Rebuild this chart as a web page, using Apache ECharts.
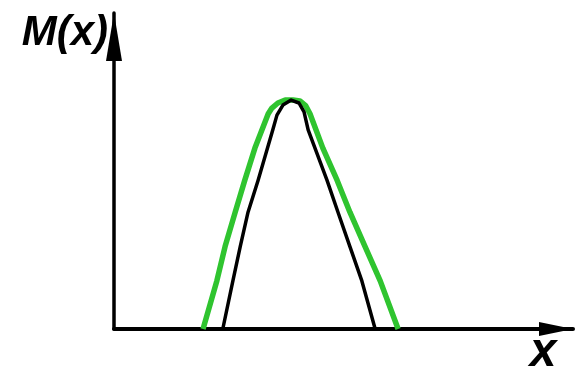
<!DOCTYPE html>
<html>
<head>
<meta charset="utf-8">
<script src="https://cdn.jsdelivr.net/npm/echarts@6/dist/echarts.min.js"></script>
<style>
  html, body { margin: 0; padding: 0; background: #fff; }
  #chart { width: 576px; height: 368px; }
</style>
</head>
<body>
<div id="chart"></div>
<script>
  // membership curves: [x, M(x)]
  const greenCurve = [
    [19.4, 0], [22.4, 0.21], [24.2, 0.36], [26.4, 0.51], [28.5, 0.65], [30.7, 0.79],
    [33.6, 0.94], [34.4, 0.965], [35.7, 0.987], [37.3, 1.0], [39.0, 1.0], [40.5, 0.996],
    [41.8, 0.974], [42.7, 0.94], [45.5, 0.79], [48.6, 0.65], [51.4, 0.51], [54.7, 0.36],
    [58.0, 0.21], [61.9, 0]
  ];
  const blackCurve = [
    [23.7, 0], [25.9, 0.21], [27.5, 0.36], [29.2, 0.51], [31.4, 0.65], [34.6, 0.87],
    [35.5, 0.934], [36.8, 0.978], [38.6, 1.0], [40.3, 0.987], [41.4, 0.948], [42.3, 0.87],
    [46.4, 0.65], [48.8, 0.51], [51.4, 0.36], [54.0, 0.21], [56.9, 0]
  ];
  const xName = "x";
  const yName = "M(x)";

  const labelStyle = { color: "#000", fontFamily: "Liberation Sans, Arial, sans-serif", fontWeight: "bold", fontStyle: "italic" };

  const chart = echarts.init(document.getElementById("chart"), null, { renderer: "canvas" });
  chart.setOption({
    animation: false,
    grid: { left: 114, right: 3, top: 13, bottom: 39, containLabel: false, outerBoundsMode: "none" },
    xAxis: {
      type: "value", min: 0, max: 100,
      name: xName, nameLocation: "end", nameGap: -30,
      nameTextStyle: Object.assign({ fontSize: 48, verticalAlign: "top", align: "center" }, labelStyle),
      axisLine: { onZero: false, symbol: ["none", "triangle"], symbolSize: [14, 34], symbolOffset: [0, -17],
        lineStyle: { color: "#000", width: 4 } },
      axisTick: { show: false }, axisLabel: { show: false }, splitLine: { show: false }
    },
    yAxis: {
      type: "value", min: 0, max: 1.38,
      name: yName, nameLocation: "end", nameGap: -20,
      nameTextStyle: Object.assign({ fontSize: 42, verticalAlign: "middle", align: "right", padding: [0, 6, 0, 0] }, labelStyle),
      axisLine: { onZero: false, symbol: ["none", "triangle"], symbolSize: [16, 48], symbolOffset: [0, -24],
        lineStyle: { color: "#000", width: 3.5 } },
      axisTick: { show: false }, axisLabel: { show: false }, splitLine: { show: false }
    },
    series: [
      { type: "line", data: greenCurve, smooth: false, symbol: "none", lineStyle: { color: "#2fc42f", width: 5.5, join: "round" }, z: 2 },
      { type: "line", data: blackCurve, smooth: false, symbol: "none", lineStyle: { color: "#000", width: 3.5, join: "round" }, z: 3 }
    ]
  });
</script>
</body>
</html>
